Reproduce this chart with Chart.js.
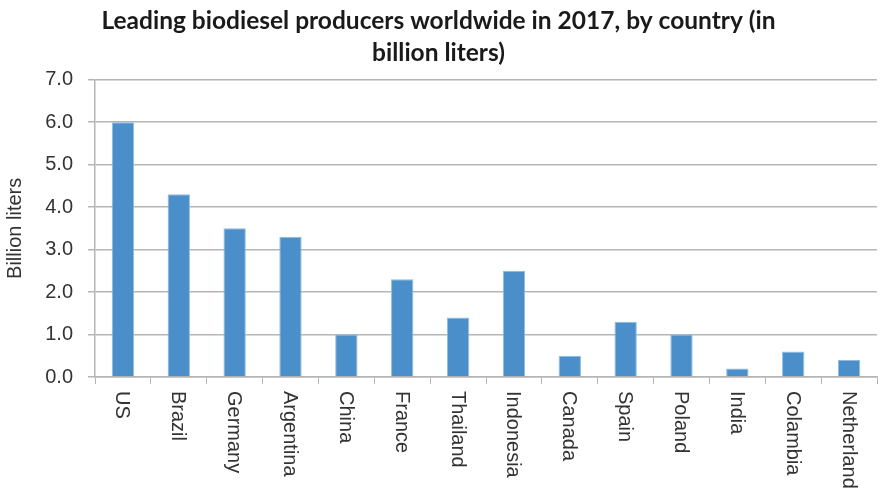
<!DOCTYPE html>
<html>
<head>
<meta charset="utf-8">
<script src="https://cdn.jsdelivr.net/npm/chart.js@4/dist/chart.umd.min.js"></script>
<style>
  html, body { margin: 0; padding: 0; background: #ffffff; }
  #wrap { width: 885px; height: 495px; position: relative; }
</style>
</head>
<body>
<div id="wrap"><canvas id="chart" width="885" height="495"></canvas></div>
<script>
// Biodiesel output per country, 2017 (billion liters)
const countries = ['US', 'Brazil', 'Germany', 'Argentina', 'China', 'France', 'Thailand',
  'Indonesia', 'Canada', 'Spain', 'Poland', 'India', 'Colambia', 'Netherland'];
const production = [6.0, 4.3, 3.5, 3.3, 1.0, 2.3, 1.4, 2.5, 0.5, 1.3, 1.0, 0.2, 0.6, 0.4];
const titleLines = ['Leading biodiesel producers worldwide in 2017, by country (in', 'billion liters)'];
const yAxisTitle = 'Billion liters';

const TITLE_FONT = 'Lato, "Open Sans", sans-serif';
const FONT = '"Liberation Sans", Arial, sans-serif';
const GRID = '#b5b5b5';
const TEXT = '#333333';

// Category labels read top-to-bottom, rotated clockwise under each tick
const verticalLabels = {
  id: 'verticalLabels',
  afterDraw(chart) {
    const x = chart.scales.x;
    const ctx = chart.ctx;
    ctx.save();
    ctx.font = '20px ' + FONT;
    ctx.fillStyle = TEXT;
    ctx.textAlign = 'left';
    ctx.textBaseline = 'middle';
    countries.forEach((name, i) => {
      const px = x.getPixelForValue(i);
      ctx.save();
      ctx.translate(px, chart.chartArea.bottom + 14);
      ctx.rotate(Math.PI / 2);
      ctx.fillText(name, 0, 1);
      ctx.restore();
    });
    ctx.restore();
  }
};

new Chart(document.getElementById('chart'), {
  type: 'bar',
  data: {
    labels: countries,
    datasets: [{
      data: production,
      backgroundColor: '#4a8fc9',
      borderColor: '#8fbbe2',
      borderWidth: 1,
      barPercentage: 0.4,
      categoryPercentage: 1.0
    }]
  },
  options: {
    responsive: false,
    animation: false,
    layout: { padding: { left: 0, right: 8, top: 0, bottom: 0 } },
    plugins: {
      legend: { display: false },
      tooltip: { enabled: false },
      title: {
        display: true,
        text: titleLines,
        color: '#1a1a1a',
        font: { family: TITLE_FONT, size: 24.5, weight: 'bold', lineHeight: 1.3 },
        padding: { top: 5, bottom: 11 }
      }
    },
    scales: {
      x: {
        offset: true,
        grid: {
          offset: true,
          drawOnChartArea: false,
          drawTicks: true,
          tickLength: 7,
          color: GRID
        },
        border: { color: GRID, width: 1.5 },
        ticks: { display: false },
        afterFit(scale) { scale.height = 118; }
      },
      y: {
        min: 0,
        max: 7,
        ticks: {
          stepSize: 1,
          color: TEXT,
          padding: 15,
          font: { family: FONT, size: 20 },
          callback: v => Number(v).toFixed(1)
        },
        grid: { color: GRID, lineWidth: 1.5, tickLength: 7 },
        border: { color: GRID, width: 1.5 },
        title: {
          display: true,
          text: yAxisTitle,
          color: TEXT,
          font: { family: FONT, size: 20 },
          padding: { top: 3, bottom: 0 }
        },
        afterFit(scale) { scale.width = 95; }
      }
    }
  },
  plugins: [verticalLabels]
});
</script>
</body>
</html>
